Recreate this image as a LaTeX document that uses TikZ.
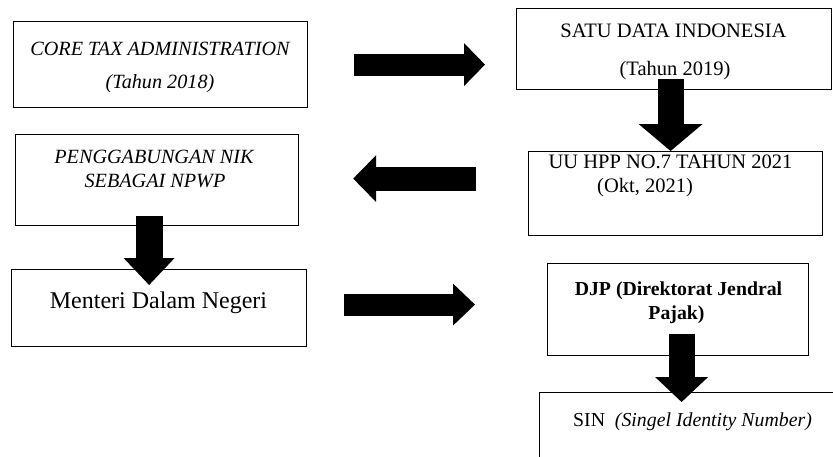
\documentclass[tikz,border=0pt]{standalone}
\usepackage{fontspec}
\setmainfont{Liberation Serif}
\usetikzlibrary{positioning}
\usetikzlibrary{arrows.meta}

\begin{document}
\begin{tikzpicture}[x=1pt, y=-1pt,
  box/.style = {draw,line width=1.2pt,anchor=north west,inner sep=0pt},
  txt/.style = {anchor=base,inner sep=0pt,font=\fontsize{20.5}{24}\selectfont},
  itxt/.style = {txt,font=\fontsize{20.2}{24}\selectfont\itshape},
  blk/.style n args = {3}{line width=#1,
        -{Triangle[length=#2,width=#3,line width=0pt]}}
]
 \clip (0,0) rectangle (833,456);
 % boxes
 \node[box,minimum width=294pt,minimum height=86pt] (core) at (13,21)  {};
 \node[box,minimum width=315pt,minimum height=81pt] (satu) at (516,8)  {};
 \node[box,minimum width=283pt,minimum height=91pt] (nik)  at (15,134) {};
 \node[box,minimum width=294pt,minimum height=84pt] (uu)   at (528,151) {};
 \node[box,minimum width=295pt,minimum height=77pt] (mdn)  at (11,269) {};
 \node[box,minimum width=261pt,minimum height=92pt] (djp)  at (547,263) {};
 \node[box,minimum width=310pt,minimum height=90pt] (sin)  at (539,392) {};
 % texts
 \node[itxt] (core1) at (160,55) {CORE TAX ADMINISTRATION};
 \node[itxt] (core2) at (160,88) {(Tahun 2018)};
 \node[txt] (satu1) at (673.5,37) {SATU DATA INDONESIA};
 \node[txt] (satu2) at (675,75) {(Tahun 2019)};
 \node[itxt] (nik1) at (154,163) {PENGGABUNGAN NIK};
 \node[itxt] (nik2) at (155,187) {SEBAGAI NPWP};
 \node[txt] (uu1) at (670.5,168) {UU HPP NO.7 TAHUN 2021};
 \node[txt] (uu2) at (645,192) {(Okt, 2021)};
 \node[txt,font=\fontsize{24}{28}\selectfont] (mdn1) at (158.5,308) {Menteri Dalam Negeri};
 \node[txt,font=\fontsize{19.8}{24}\selectfont\bfseries] (djp1) at (678.5,295) {DJP (Direktorat Jendral};
 \node[txt,font=\fontsize{19.8}{24}\selectfont\bfseries] (djp2) at (676.5,319) {Pajak)};
 \node[txt,font=\fontsize{19.8}{24}\selectfont] (sin1) at (692.5,426) {SIN~~\textit{(Singel Identity Number)}};
 % block arrows
 \draw[blk={22pt}{21pt}{43pt},shorten <=46pt,shorten >=31pt]
   (core.east) -- (core.east -| satu.west);
 \draw[blk={26pt}{27pt}{64pt}]
   ([xshift=-3.5pt,yshift=11pt]satu.south) -- ([xshift=-3.5pt]satu.south |- uu.north);
 \draw[blk={24pt}{23pt}{47pt},shorten <=52pt,shorten >=54pt]
   ([yshift=1.5pt]uu.west |- nik.east) -- ([yshift=1.5pt]nik.east);
 \draw[blk={27pt}{27pt}{51pt},shorten >=-16pt]
   ([xshift=-8pt,yshift=10pt]nik.south) -- ([xshift=-8pt]nik.south |- mdn.north);
 \draw[blk={22pt}{22pt}{42pt},shorten <=37pt,shorten >=72pt]
   ([yshift=3.5pt]mdn.east) -- ([yshift=3.5pt]mdn.east -| djp.west);
 \draw[blk={26pt}{25pt}{53pt},shorten >=-10pt]
   ([xshift=3.5pt,yshift=22pt]djp.south) -- ([xshift=3.5pt]djp.south |- sin.north);
\end{tikzpicture}
\end{document}
